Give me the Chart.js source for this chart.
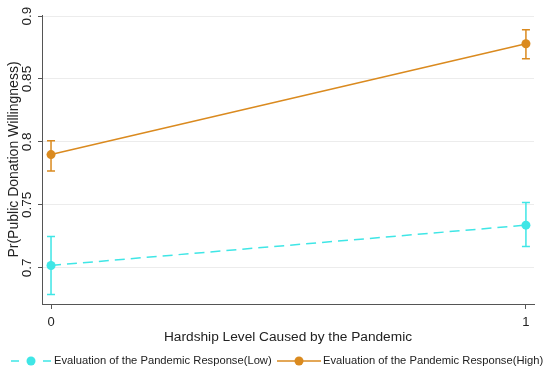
<!DOCTYPE html>
<html>
<head>
<meta charset="utf-8">
<script src="https://cdn.jsdelivr.net/npm/chart.js@4.4.0/dist/chart.umd.min.js"></script>
<style>
html, body { margin: 0; padding: 0; background: #fff; }
#wrap { width: 550px; height: 375px; }
</style>
</head>
<body>
<div id="wrap"><canvas id="myChart"></canvas></div>
<script>
// values
const hardshipLevels = [0, 1];
const lowMeans = [0.702, 0.734];
const lowLower = [0.679, 0.717];
const lowUpper = [0.725, 0.752];
const highMeans = [0.790, 0.878];
const highLower = [0.777, 0.866];
const highUpper = [0.801, 0.889];
const yTickValues = [0.7, 0.75, 0.8, 0.85, 0.9];
const xTickValues = [0, 1];
const seriesLabels = [
    'Evaluation of the Pandemic Response(Low)',
    'Evaluation of the Pandemic Response(High)'
];

const cyan = '#3fe6e6';
const orange = '#da8a1f';
const fontFamily = '"Liberation Sans", Arial, sans-serif';

const ciBars = {
    id: 'ciBars',
    beforeDatasetsDraw(chart) {
        const { ctx, scales: { x, y } } = chart;
        chart.data.datasets.forEach(ds => {
            ctx.save();
            ctx.strokeStyle = ds.borderColor;
            ctx.lineWidth = 1.5;
            ds.lower.forEach((lo, i) => {
                const px = x.getPixelForValue(hardshipLevels[i]);
                const top = y.getPixelForValue(ds.upper[i]);
                const bot = y.getPixelForValue(lo);
                ctx.beginPath();
                ctx.moveTo(px, top); ctx.lineTo(px, bot);
                ctx.moveTo(px - 4, top); ctx.lineTo(px + 4, top);
                ctx.moveTo(px - 4, bot); ctx.lineTo(px + 4, bot);
                ctx.stroke();
            });
            ctx.restore();
        });
    }
};

const bottomLegend = {
    id: 'bottomLegend',
    afterDraw(chart) {
        const ctx = chart.ctx;
        const yy = 361;
        const items = [
            { ds: chart.data.datasets[0], x0: 11, dot: 31, x1: 51, text: 54, dashed: true },
            { ds: chart.data.datasets[1], x0: 277, dot: 299, x1: 321, text: 323, dashed: false }
        ];
        ctx.save();
        items.forEach(it => {
            ctx.strokeStyle = it.ds.borderColor;
            ctx.fillStyle = it.ds.borderColor;
            ctx.lineWidth = 1.5;
            ctx.beginPath();
            if (it.dashed) {
                ctx.moveTo(it.x0, yy); ctx.lineTo(it.x0 + 8, yy);
                ctx.moveTo(it.x1 - 8, yy); ctx.lineTo(it.x1, yy);
            } else {
                ctx.moveTo(it.x0, yy); ctx.lineTo(it.x1, yy);
            }
            ctx.stroke();
            ctx.beginPath();
            ctx.arc(it.dot, yy, 4.5, 0, Math.PI * 2);
            ctx.fill();
            ctx.fillStyle = '#222';
            ctx.font = '11.2px ' + fontFamily;
            ctx.textBaseline = 'middle';
            ctx.textAlign = 'left';
            ctx.fillText(it.ds.label, it.text, yy);
        });
        ctx.restore();
    }
};

new Chart(document.getElementById('myChart'), {
    type: 'line',
    data: {
        datasets: [
            {
                label: seriesLabels[0],
                data: hardshipLevels.map((h, i) => ({ x: h, y: lowMeans[i] })),
                lower: lowLower,
                upper: lowUpper,
                borderColor: cyan,
                backgroundColor: cyan,
                borderWidth: 1.5,
                borderDash: [10, 6],
                pointRadius: 4.5,
                pointBorderWidth: 0,
                clip: false
            },
            {
                label: seriesLabels[1],
                data: hardshipLevels.map((h, i) => ({ x: h, y: highMeans[i] })),
                lower: highLower,
                upper: highUpper,
                borderColor: orange,
                backgroundColor: orange,
                borderWidth: 1.5,
                pointRadius: 4.5,
                pointBorderWidth: 0,
                clip: false
            }
        ]
    },
    options: {
        responsive: true,
        maintainAspectRatio: false,
        animation: false,
        layout: { padding: { top: 15, right: 16, bottom: 30, left: 0 } },
        plugins: {
            legend: { display: false },
            tooltip: { enabled: false }
        },
        scales: {
            x: {
                type: 'linear',
                min: -0.019,
                max: 1.017,
                afterBuildTicks: scale => { scale.ticks = xTickValues.map(v => ({ value: v })); },
                afterFit: scale => { scale.height = 41; },
                ticks: {
                    color: '#222',
                    font: { family: fontFamily, size: 13 },
                    padding: 6,
                    maxRotation: 0,
                    callback: v => String(v)
                },
                grid: { drawOnChartArea: false, tickLength: 5, tickColor: '#555' },
                border: { color: '#555', width: 1 },
                title: {
                    display: true,
                    text: 'Hardship Level Caused by the Pandemic',
                    color: '#222',
                    font: { family: fontFamily, size: 13.7 },
                    padding: { top: 4, bottom: 0 }
                }
            },
            y: {
                min: 0.6714,
                max: 0.9008,
                afterBuildTicks: scale => { scale.ticks = yTickValues.map(v => ({ value: v })); },
                afterFit: scale => { scale.width = 42; },
                ticks: {
                    color: '#222',
                    font: { family: fontFamily, size: 13.5 },
                    padding: -2,
                    minRotation: 90,
                    maxRotation: 90,
                    crossAlign: 'center',
                    callback: v => String(+v.toFixed(2))
                },
                grid: { color: '#ececec', tickLength: 4, tickColor: '#555', lineWidth: 1 },
                border: { color: '#555', width: 1 },
                title: {
                    display: true,
                    text: 'Pr(Public Donation Willingness)',
                    color: '#222',
                    font: { family: fontFamily, size: 14 },
                    padding: { top: 6, bottom: 0 }
                }
            }
        }
    },
    plugins: [ciBars, bottomLegend]
});
</script>
</body>
</html>
